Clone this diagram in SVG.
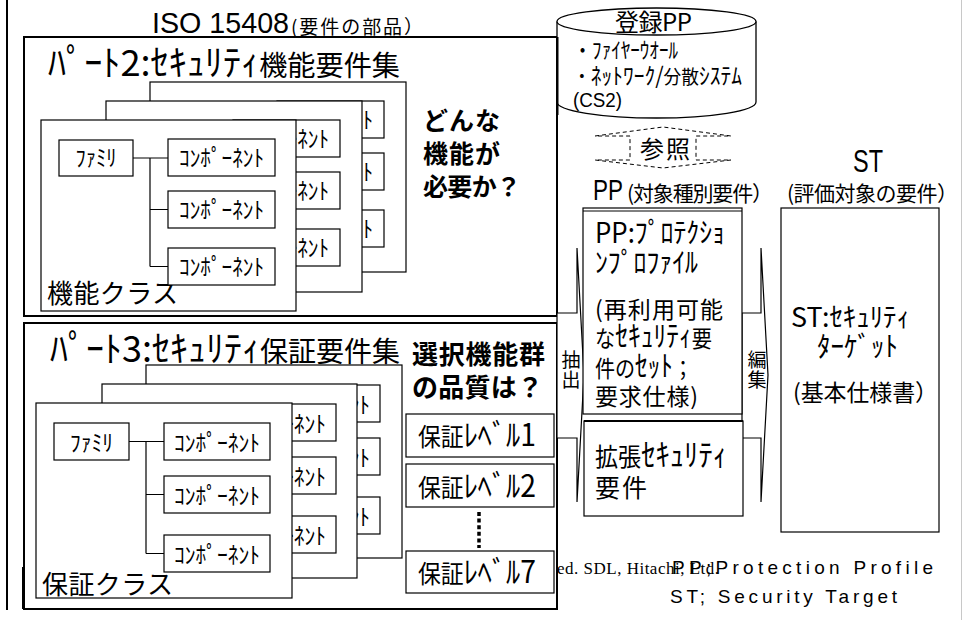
<svg xmlns="http://www.w3.org/2000/svg" width="963" height="620" viewBox="0 0 963 620">
<style>
.frame{fill:#fff;stroke:#000;stroke-width:2}
.page{fill:#fff;stroke:#000;stroke-width:1.2}
.box{fill:#fff;stroke:#000;stroke-width:1.2}
.ln{fill:none;stroke:#000;stroke-width:1.2}
.j{font-family:"Noto Sans CJK JP","Liberation Sans",sans-serif;fill:#000}
.l{font-family:"Liberation Sans","Noto Sans CJK JP",sans-serif;fill:#000}
.b{font-weight:bold}
.ct{font-size:23px;text-anchor:middle}
</style>
<rect x="0" y="0" width="963" height="620" fill="#fff"/>
<line x1="7" y1="0" x2="7" y2="610" stroke="#000" stroke-width="2"/>
<line x1="961.5" y1="0" x2="961.5" y2="620" stroke="#c8c8c8" stroke-width="1"/>

<g id="title">
<text class="l" x="152" y="33" font-size="29" textLength="137" lengthAdjust="spacingAndGlyphs">ISO 15408</text>
<text class="j" x="291" y="34" font-size="19" textLength="132">(要件の部品）</text>
</g>

<g id="part2">
<rect class="frame" x="24" y="37" width="533" height="279"/>
<text class="j" x="48" y="76" font-size="28" textLength="352" lengthAdjust="spacingAndGlyphs"><tspan font-size="36">ﾊﾟｰﾄ2:ｾｷｭﾘﾃｨ</tspan>機能要件集</text>
<g id="p2-back">
<rect class="page" x="150" y="82" width="256" height="190"/>
<rect class="box" x="277" y="101" width="107" height="37"/>
<rect class="box" x="277" y="153" width="107" height="37"/>
<rect class="box" x="277" y="210" width="107" height="37"/>
<text class="j ct" x="330.5" y="128" textLength="85" lengthAdjust="spacingAndGlyphs">ｺﾝﾎﾟｰﾈﾝﾄ</text>
<text class="j ct" x="330.5" y="180" textLength="85" lengthAdjust="spacingAndGlyphs">ｺﾝﾎﾟｰﾈﾝﾄ</text>
<text class="j ct" x="330.5" y="237" textLength="85" lengthAdjust="spacingAndGlyphs">ｺﾝﾎﾟｰﾈﾝﾄ</text>
</g>
<g id="p2-middle">
<rect class="page" x="106" y="101" width="256" height="191"/>
<rect class="box" x="233" y="120" width="107" height="37"/>
<rect class="box" x="233" y="172" width="107" height="37"/>
<rect class="box" x="233" y="229" width="107" height="37"/>
<text class="j ct" x="286.5" y="147" textLength="85" lengthAdjust="spacingAndGlyphs">ｺﾝﾎﾟｰﾈﾝﾄ</text>
<text class="j ct" x="286.5" y="199" textLength="85" lengthAdjust="spacingAndGlyphs">ｺﾝﾎﾟｰﾈﾝﾄ</text>
<text class="j ct" x="286.5" y="256" textLength="85" lengthAdjust="spacingAndGlyphs">ｺﾝﾎﾟｰﾈﾝﾄ</text>
</g>
<g id="p2-front">
<rect class="page" x="41" y="120" width="255" height="191"/>
<text class="j" x="47" y="303" font-size="26" textLength="131">機能クラス</text>
</g>
<g id="p2-family">
<rect class="box" x="59" y="140" width="74" height="36"/>
<text class="j ct" x="96" y="166" textLength="41" lengthAdjust="spacingAndGlyphs">ﾌｧﾐﾘ</text>
</g>
<g id="p2-comp1">
<rect class="box" x="168" y="139" width="107" height="37"/>
<text class="j ct" x="221.5" y="166" textLength="85" lengthAdjust="spacingAndGlyphs">ｺﾝﾎﾟｰﾈﾝﾄ</text>
</g>
<g id="p2-comp2">
<rect class="box" x="168" y="191" width="107" height="37"/>
<text class="j ct" x="221.5" y="218" textLength="85" lengthAdjust="spacingAndGlyphs">ｺﾝﾎﾟｰﾈﾝﾄ</text>
</g>
<g id="p2-comp3">
<rect class="box" x="168" y="248" width="107" height="37"/>
<text class="j ct" x="221.5" y="275" textLength="85" lengthAdjust="spacingAndGlyphs">ｺﾝﾎﾟｰﾈﾝﾄ</text>
</g>
<g id="q-function">
<text class="j b" x="423" y="130" font-size="25" textLength="77">どんな</text>
<text class="j b" x="423" y="163" font-size="25" textLength="77">機能が</text>
<text class="j b" x="423" y="196" font-size="25" textLength="98">必要か？</text>
</g>
</g>

<g id="part3">
<rect class="frame" x="24" y="323" width="533" height="286"/>
<line x1="23.5" y1="567" x2="23.5" y2="609" stroke="#000" stroke-width="3"/>
<text class="j" x="50" y="362" font-size="28" textLength="350" lengthAdjust="spacingAndGlyphs"><tspan font-size="36">ﾊﾟｰﾄ3:ｾｷｭﾘﾃｨ</tspan>保証要件集</text>
<g id="p3-back">
<rect class="page" x="146" y="365" width="256" height="193"/>
<rect class="box" x="274" y="385" width="106" height="37"/>
<rect class="box" x="274" y="438" width="106" height="37"/>
<rect class="box" x="274" y="497" width="106" height="37"/>
<text class="j ct" x="327" y="413" textLength="86" lengthAdjust="spacingAndGlyphs">ｺﾝﾎﾟｰﾈﾝﾄ</text>
<text class="j ct" x="327" y="466" textLength="86" lengthAdjust="spacingAndGlyphs">ｺﾝﾎﾟｰﾈﾝﾄ</text>
<text class="j ct" x="327" y="525" textLength="86" lengthAdjust="spacingAndGlyphs">ｺﾝﾎﾟｰﾈﾝﾄ</text>
</g>
<g id="p3-middle">
<rect class="page" x="102" y="384" width="255" height="194"/>
<rect class="box" x="230" y="404" width="106" height="37"/>
<rect class="box" x="230" y="457" width="106" height="37"/>
<rect class="box" x="230" y="516" width="106" height="37"/>
<text class="j ct" x="283" y="432" textLength="86" lengthAdjust="spacingAndGlyphs">ｺﾝﾎﾟｰﾈﾝﾄ</text>
<text class="j ct" x="283" y="485" textLength="86" lengthAdjust="spacingAndGlyphs">ｺﾝﾎﾟｰﾈﾝﾄ</text>
<text class="j ct" x="283" y="544" textLength="86" lengthAdjust="spacingAndGlyphs">ｺﾝﾎﾟｰﾈﾝﾄ</text>
</g>
<g id="p3-front">
<rect class="page" x="36" y="403" width="256" height="195"/>
<text class="j" x="42" y="594" font-size="26" textLength="131">保証クラス</text>
</g>
<g id="p3-family">
<rect class="box" x="54" y="423" width="75" height="37"/>
<text class="j ct" x="91.5" y="451" textLength="43" lengthAdjust="spacingAndGlyphs">ﾌｧﾐﾘ</text>
</g>
<g id="p3-comp1">
<rect class="box" x="164" y="423" width="106" height="37"/>
<text class="j ct" x="217" y="451" textLength="86" lengthAdjust="spacingAndGlyphs">ｺﾝﾎﾟｰﾈﾝﾄ</text>
</g>
<g id="p3-comp2">
<rect class="box" x="164" y="476" width="106" height="37"/>
<text class="j ct" x="217" y="504" textLength="86" lengthAdjust="spacingAndGlyphs">ｺﾝﾎﾟｰﾈﾝﾄ</text>
</g>
<g id="p3-comp3">
<rect class="box" x="164" y="535" width="106" height="37"/>
<text class="j ct" x="217" y="563" textLength="86" lengthAdjust="spacingAndGlyphs">ｺﾝﾎﾟｰﾈﾝﾄ</text>
</g>
<g id="q-quality">
<text class="j b" x="412" y="364" font-size="26" textLength="133">選択機能群</text>
<text class="j b" x="412" y="397" font-size="26" textLength="131">の品質は？</text>
</g>
<g id="level1">
<rect class="box" x="406" y="414" width="148" height="43"/>
<text class="j" x="418" y="446" font-size="25" textLength="118" lengthAdjust="spacingAndGlyphs">保証<tspan font-size="31">ﾚﾍﾞﾙ1</tspan></text>
</g>
<g id="level2">
<rect class="box" x="406" y="464" width="148" height="43"/>
<text class="j" x="418" y="497" font-size="25" textLength="118" lengthAdjust="spacingAndGlyphs">保証<tspan font-size="31">ﾚﾍﾞﾙ2</tspan></text>
</g>
<g id="level7">
<rect class="box" x="406" y="551" width="148" height="42"/>
<text class="j" x="418" y="583" font-size="25" textLength="118" lengthAdjust="spacingAndGlyphs">保証<tspan font-size="31">ﾚﾍﾞﾙ7</tspan></text>
</g>
</g>

<g id="registered-pp">
<path d="M557,21.5 L557,102 A99.5,16 0 0 0 756,102 L756,21.5" fill="#fff" stroke="#000" stroke-width="1.3"/>
<ellipse cx="656.5" cy="21.5" rx="99.5" ry="13.5" fill="#fff" stroke="#000" stroke-width="1.3"/>
<line x1="557.5" y1="37" x2="557.5" y2="115" stroke="#000" stroke-width="2"/>
<text class="j" x="615" y="31" font-size="24" textLength="77">登録PP</text>
<text class="j" x="573" y="58" font-size="22" textLength="105" lengthAdjust="spacingAndGlyphs">・ﾌｧｲﾔｰｳｵｰﾙ</text>
<text class="j" x="573" y="84" font-size="19" textLength="169" lengthAdjust="spacingAndGlyphs">・<tspan font-size="23">ﾈｯﾄﾜｰｸ/</tspan>分散<tspan font-size="23">ｼｽﾃﾑ</tspan></text>
<text class="l" x="573" y="107" font-size="20" textLength="49" lengthAdjust="spacingAndGlyphs">(CS2)</text>
</g>

<g id="connectors">
<path class="ln" d="M133,158 H168 M150,158 V266.5 M150,209.5 H168 M150,266.5 H168"/>
<path class="ln" d="M129,441.5 H164 M146,441.5 V553.5 M146,494.5 H164 M146,553.5 H164"/>
<line x1="479" y1="512" x2="479" y2="548" stroke="#000" stroke-width="3.5" stroke-dasharray="4 2.6"/>
<g id="arrow-extract">
<polygon points="557,313 577,313 577,248 584,375 577,502 577,438 557,438" fill="#fff" stroke="#000" stroke-width="1.2"/>
<text class="j" x="571" y="350" font-size="19" writing-mode="tb" letter-spacing="1">抽出</text>
</g>
<g id="arrow-edit">
<polygon points="742,313 761,313 761,248 768,375 761,502 761,438 742,438" fill="#fff" stroke="#000" stroke-width="1.2"/>
<text class="j" x="757" y="350" font-size="19" writing-mode="tb" letter-spacing="1">編集</text>
</g>
<g id="arrow-ref">
<polygon points="595,136 663,127 731,136 696,136 696,160 731,160 663,168 595,160 630,160 630,136" fill="none" stroke="#000" stroke-width="1" stroke-dasharray="4 3"/>
<text class="j" x="640" y="158" font-size="24" textLength="50">参照</text>
</g>
</g>

<g id="headers">
<text class="l" x="593" y="200" font-size="30" textLength="30" lengthAdjust="spacingAndGlyphs">PP</text>
<text class="j" x="627" y="201" font-size="21" textLength="146">(対象種別要件）</text>
<text class="l" x="853" y="172" font-size="32" textLength="30" lengthAdjust="spacingAndGlyphs">ST</text>
<text class="j" x="787" y="201" font-size="21" textLength="171">(評価対象の要件）</text>
</g>

<g id="pp-box">
<rect class="box" x="583" y="208" width="159" height="206"/>
<line x1="583" y1="211" x2="742" y2="211" stroke="#000" stroke-width="1"/>
<text class="j" x="595" y="243" font-size="28" textLength="130" lengthAdjust="spacingAndGlyphs">PP:ﾌﾟﾛﾃｸｼｮ</text>
<text class="j" x="595" y="273" font-size="28" textLength="103" lengthAdjust="spacingAndGlyphs">ﾝﾌﾟﾛﾌｧｲﾙ</text>
<text class="j" x="595" y="318" font-size="23" textLength="128">(再利用可能</text>
<text class="j" x="595" y="347" font-size="23" textLength="117" lengthAdjust="spacingAndGlyphs">な<tspan font-size="29">ｾｷｭﾘﾃｨ</tspan>要</text>
<text class="j" x="595" y="377" font-size="23" textLength="98" lengthAdjust="spacingAndGlyphs">件の<tspan font-size="29">ｾｯﾄ</tspan>；</text>
<text class="j" x="595" y="405" font-size="23" textLength="103">要求仕様)</text>
</g>

<g id="ext-box">
<rect class="box" x="584" y="421" width="159" height="95"/>
<line x1="584" y1="421" x2="743" y2="421" stroke="#000" stroke-width="2.2"/>
<text class="j" x="595" y="466" font-size="25" textLength="132" lengthAdjust="spacingAndGlyphs">拡張<tspan font-size="31">ｾｷｭﾘﾃｨ</tspan></text>
<text class="j" x="595" y="497" font-size="25" textLength="52">要件</text>
</g>

<g id="st-box">
<rect class="box" x="781" y="208" width="158" height="324"/>
<text class="j" x="791" y="327" font-size="27" textLength="119" lengthAdjust="spacingAndGlyphs">ST:ｾｷｭﾘﾃｨ</text>
<text class="j" x="817" y="357" font-size="28" textLength="81" lengthAdjust="spacingAndGlyphs">ﾀｰｹﾞｯﾄ</text>
<text class="j" x="793" y="401" font-size="23" textLength="145">(基本仕様書）</text>
</g>

<g id="footer">
<text x="557" y="574" font-family="Liberation Serif, serif" font-size="17" textLength="162">ed. SDL, Hitachi, Ltd.</text>
<text class="l" x="672" y="574" font-size="19" textLength="261">PP;Protection Profile</text>
<text class="l" x="670" y="603" font-size="19" textLength="227">ST; Security Target</text>
</g>
</svg>
